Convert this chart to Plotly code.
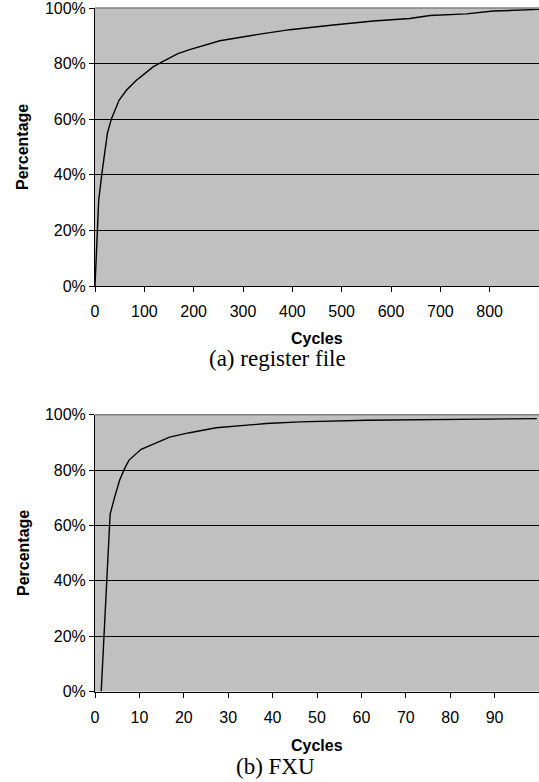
import plotly.graph_objects as go

# (a) register file
reg_cycles = [0, 4, 7.5, 14, 19.7, 25, 33, 40, 48.7, 63.6, 84, 100.8, 117.6, 138, 168, 192, 212,
              253, 334, 395, 483, 564, 638, 679, 753, 807, 900]
reg_pct = [0, 20, 30.9, 40.5, 48.9, 54.8, 60, 63.2, 66.8, 70.4, 74, 76.4, 78.8, 80.8, 83.6, 85, 86.1,
           88.2, 90.6, 92.2, 93.9, 95.3, 96.2, 97.3, 97.9, 98.9, 99.5]

# (b) FXU
fxu_cycles = [1.4, 3.4, 4.44, 5.56, 6.69, 7.66, 10.4, 13.8, 16.8, 21.3, 25.8, 27.3, 38.6, 46.1,
              61.1, 83.6, 99.5]
fxu_pct = [0, 64, 70.3, 76.4, 80.6, 83.6, 87.5, 89.9, 91.9, 93.5, 95.0, 95.3, 96.8, 97.4,
           98.0, 98.4, 98.6]

y_ticks = [0, 20, 40, 60, 80, 100]
y_labels = ["0%", "20%", "40%", "60%", "80%", "100%"]
reg_x_ticks = [0, 100, 200, 300, 400, 500, 600, 700, 800]
fxu_x_ticks = [0, 10, 20, 30, 40, 50, 60, 70, 80, 90]

W, H = 539, 782
def py(p):
    return 1 - p / H

fig = go.Figure()
fig.add_trace(go.Scatter(x=reg_cycles, y=reg_pct, mode="lines",
                         line=dict(color="black", width=1.4), xaxis="x", yaxis="y",
                         showlegend=False, hoverinfo="skip"))
fig.add_trace(go.Scatter(x=fxu_cycles, y=fxu_pct, mode="lines",
                         line=dict(color="black", width=1.4), xaxis="x2", yaxis="y2",
                         showlegend=False, hoverinfo="skip"))

tickfont = dict(family="Liberation Sans, Arial", size=16, color="black")
x0 = 95 / W

common_y = dict(range=[0, 100], tickmode="array", tickvals=y_ticks, ticktext=y_labels,
                showgrid=True, automargin=False, ticklabeloverflow="allow",
                gridcolor="black", gridwidth=1, zeroline=False, showline=True,
                linecolor="black", linewidth=1, ticks="outside", ticklen=5,
                tickcolor="black", tickfont=tickfont, fixedrange=True)
common_x = dict(showgrid=False, zeroline=False, showline=True, linecolor="black",
                linewidth=1, ticks="outside", ticklen=5, tickcolor="black", automargin=False,
                tickfont=tickfont, fixedrange=True, tickmode="array",
                ticklabelstandoff=6, ticklabeloverflow="allow")

fig.update_layout(
    width=W, height=H,
    margin=dict(l=0, r=0, t=0, b=0),
    paper_bgcolor="white", plot_bgcolor="#c0c0c0",
    xaxis=dict(domain=[x0, 1], range=[0, 900], tickvals=reg_x_ticks, anchor="y", **common_x),
    yaxis=dict(domain=[py(286), py(8)], anchor="x", **common_y),
    xaxis2=dict(domain=[x0, 1], range=[0, 100], tickvals=fxu_x_ticks, anchor="y2", **common_x),
    yaxis2=dict(domain=[py(691.5), py(414.7)], anchor="x2", **common_y),
)

# gray top border of plot areas
for xr, yr in [("x domain", "y domain"), ("x2 domain", "y2 domain")]:
    fig.add_shape(type="line", xref=xr, yref=yr, x0=0, x1=1, y0=1, y1=1,
                  line=dict(color="#808080", width=1.5))

bold = dict(family="Liberation Sans, Arial", size=16, color="black")
serif = dict(family="Liberation Serif, Times New Roman", size=23, color="black")

def ann(text, x, y, font, angle=0):
    fig.add_annotation(text=text, x=x / W, y=py(y), xref="paper", yref="paper",
                       showarrow=False, font=font, textangle=angle,
                       xanchor="center", yanchor="middle")

ann("<b>Percentage</b>", 23, 147, bold, -90)
ann("<b>Percentage</b>", 23, 553, bold, -90)
ann("<b>Cycles</b>", 317, 338, bold)
ann("<b>Cycles</b>", 317, 745, bold)
ann("(a) register file", 277, 359, serif)
ann("(b) FXU", 275, 766, serif)

fig.write_html("out.html", config={"displayModeBar": False},
               post_script="document.body.style.margin='0px';")
